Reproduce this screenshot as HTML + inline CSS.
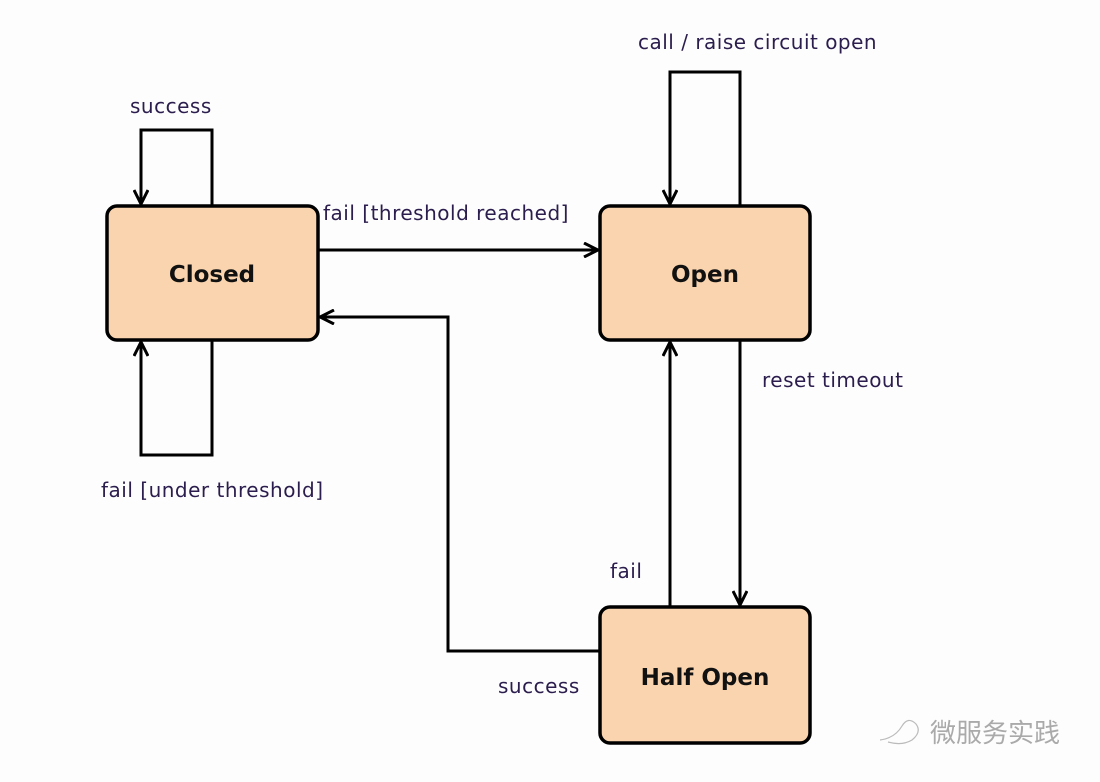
<!DOCTYPE html>
<html><head><meta charset="utf-8"><style>
html,body{margin:0;padding:0;background:#fdfdfd;}
svg{display:block}
text{font-family:"DejaVu Sans","Liberation Sans",sans-serif;}
.l{font-size:20px;letter-spacing:0.5px;fill:#2b1d4d;}
.b{font-size:23px;font-weight:bold;fill:#111;}
</style></head><body>
<svg width="1100" height="782" viewBox="0 0 1100 782">
<defs><marker id="a" markerWidth="18" markerHeight="16" refX="15" refY="8" orient="auto" markerUnits="userSpaceOnUse">
<path d="M1,1 L15,8 L1,15" fill="none" stroke="#000" stroke-width="3"/></marker></defs>
<g fill="#f9d4ae" stroke="#000" stroke-width="3.5">
<rect x="107" y="206" width="211" height="134" rx="10"/>
<rect x="600" y="206" width="210" height="134" rx="10"/>
<rect x="600" y="607" width="210" height="136" rx="10"/>
</g>
<g fill="none" stroke="#000" stroke-width="3">
<path d="M212,206 V130 H141 V204" marker-end="url(#a)"/>
<path d="M212,340 V455 H141 V342" marker-end="url(#a)"/>
<path d="M318,250 H598" marker-end="url(#a)"/>
<path d="M600,651 H448 V317 H320" marker-end="url(#a)"/>
<path d="M740,206 V72 H670 V204" marker-end="url(#a)"/>
<path d="M740,340 V605" marker-end="url(#a)"/>
<path d="M670,607 V342" marker-end="url(#a)"/>
</g>
<text class="b" x="212" y="282" text-anchor="middle">Closed</text>
<text class="b" x="705" y="282" text-anchor="middle">Open</text>
<text class="b" x="705" y="685" text-anchor="middle">Half Open</text>
<text class="l" x="130" y="113">success</text>
<text class="l" x="323" y="220">fail [threshold reached]</text>
<text class="l" x="638" y="49">call / raise circuit open</text>
<text class="l" x="762" y="387">reset timeout</text>
<text class="l" x="101" y="497">fail [under threshold]</text>
<text class="l" x="610" y="578">fail</text>
<text class="l" x="498" y="693">success</text>
<text x="930" y="742" style="font-family:'Liberation Sans','Noto Sans CJK SC',sans-serif;font-size:26px;fill:#aaa">微服务实践</text>
<path d="M880,740 q15,-2 22,-14 q6,-10 14,-2 q6,8 -4,16 q-10,6 -24,2" fill="none" stroke="#bbb" stroke-width="1.2"/>
</svg>
</body></html>
